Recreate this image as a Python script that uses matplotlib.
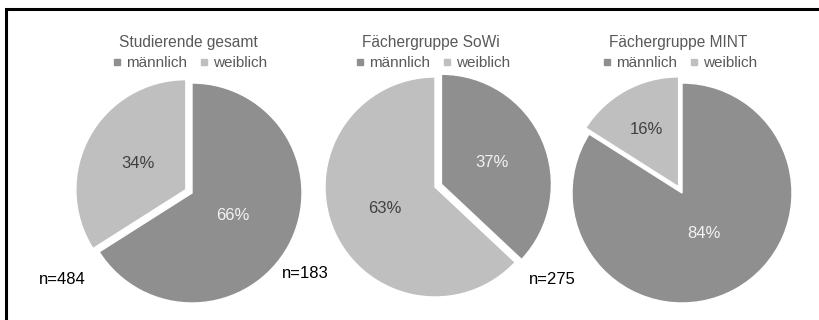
import numpy as np
import matplotlib
matplotlib.use("Agg")
import matplotlib.pyplot as plt
from matplotlib.lines import Line2D
from matplotlib.legend import Legend

plt.rcParams['font.family'] = ['Liberation Sans', 'DejaVu Sans']

# data
groups = ["Studierende gesamt", "Fächergruppe SoWi", "Fächergruppe MINT"]
categories = ["männlich", "weiblich"]
male = [66, 37, 84]
female = [34, 63, 16]
n_total = [484, 183, 275]

# layout (pixel units, y pointing up)
W, H = 819, 320
centers = [(192, 127), (435, 133), (682, 127)]
radius = 110
gap = 7
label_dist = [(0.42, 0.5), (0.5, 0.5), (0.42, 0.6)]  # percent label radius per slice
colors = ['#8f8f8f', '#bfbfbf']
pct_colors = ['#f2f2f2', '#404040']
text_grey = '#595959'

fig = plt.figure(figsize=(W / 100, H / 100), dpi=100)
ax = fig.add_axes([0, 0, 1, 1])

for i, name in enumerate(groups):
    vals = [male[i], female[i]]
    # pull the smaller slice out a little
    explode = [gap if v < max(vals) else 0 for v in vals]
    wedges, texts, autotexts = ax.pie(
        vals, colors=colors, startangle=90, counterclock=False,
        center=centers[i], radius=radius, explode=explode,
        autopct=lambda p: f"{p:.0f}%", pctdistance=0.5,
        wedgeprops=dict(edgecolor='white', linewidth=1.0),
        textprops=dict(fontsize=12))
    for w, t, c, d in zip(wedges, autotexts, pct_colors, label_dist[i]):
        th = np.deg2rad((w.theta1 + w.theta2) / 2)
        wx, wy = w.center
        t.set_position((wx + d * radius * np.cos(th), wy + d * radius * np.sin(th)))
        t.set_color(c)

    cx, cy = centers[i]
    ax.text(cx - 4, H - 43, name, ha='center', va='center',
            fontsize=11.2, color=text_grey)
    handles = [Line2D([], [], marker='s', linestyle='none', markersize=5,
                      markerfacecolor=c, markeredgecolor=c) for c in colors]
    leg = Legend(ax, handles, categories, loc='center', ncol=2,
                 bbox_to_anchor=(cx - 2, H - 63), bbox_transform=ax.transData,
                 frameon=False, fontsize=11, handlelength=0.6,
                 handletextpad=0.3, columnspacing=0.8, borderpad=0,
                 labelcolor=text_grey)
    ax.add_artist(leg)
    ax.text(cx - 130, cy - 87, f"n={n_total[i]}", ha='center', va='center',
            fontsize=12, color='black')

# frame lines along top and left edge
ax.plot([6, 6, W], [0, H - 9, H - 9], color='black', linewidth=2.2,
        solid_joinstyle='miter')

ax.set_xlim(0, W)
ax.set_ylim(0, H)
ax.set_aspect('auto')
ax.axis('off')

fig.savefig('out.png', dpi=100, facecolor='white')
